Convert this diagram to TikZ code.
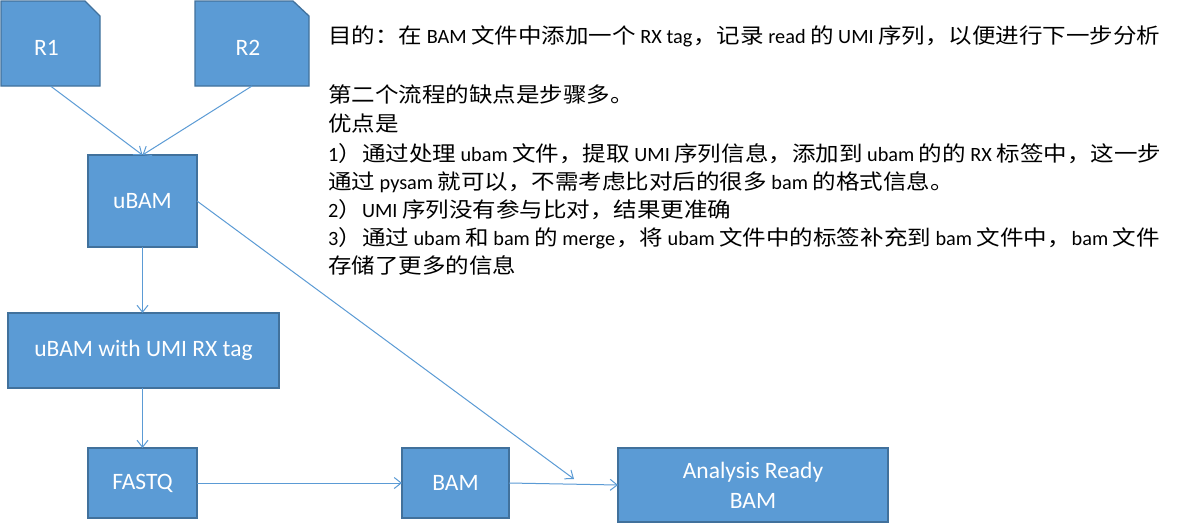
\documentclass[tikz,border=0pt]{standalone}
\usepackage{fontspec}
\setmainfont{Carlito}
\newfontfamily\cjkf[FakeStretch=1.12]{Noto Sans CJK SC}
\usetikzlibrary{arrows.meta}
\definecolor{boxfill}{HTML}{5B9BD5}
\definecolor{boxline}{HTML}{41719C}
\definecolor{conncol}{HTML}{5B9BD5}
\newcommand\cj[1]{{\cjkf\fontsize{21}{24}\selectfont #1}}
\newcommand\lat[1]{\hspace{4.5pt}#1\hspace{4.5pt}}
\newcommand\latl[1]{\hspace{4.5pt}#1\hspace{1pt}}
\newcommand\latr[1]{\hspace{1pt}#1\hspace{4.5pt}}
\tikzset{
  box/.style={draw=boxline, fill=boxfill, line width=1.3pt, text=white,
    font=\fontsize{23.5}{30}\selectfont, inner sep=0pt, outer sep=0pt, align=center},
  snipframe/.style={draw=none, fill=none, inner sep=0pt, outer sep=0pt},
  sniplbl/.style={text=white, font=\fontsize{23.5}{30}\selectfont, inner sep=0pt},
  snipfill/.style={draw=boxline, fill=boxfill, line width=1.3pt},
  conn/.style={draw=conncol, line width=1pt, -{Straight Barb[length=7pt,width=11pt]}},
  txt/.style={anchor=base west, inner sep=0pt, font=\fontsize{20.3}{24}\selectfont}
}
\begin{document}
\begin{tikzpicture}[x=1pt, y=-1pt]
\useasboundingbox[fill=white] (0,0) rectangle (1189,523);

% snip-corner inputs
\node[snipframe, minimum width=99pt, minimum height=85pt] (R1) at (50.5,43.5) {};
\filldraw[snipfill] (R1.north west) -- ([xshift=-15pt]R1.north east) -- ([yshift=-15pt]R1.north east) -- (R1.south east) -- (R1.south west) -- cycle;
\node[sniplbl] (R1t) at ([shift={(-4pt,-4pt)}]R1.center) {R1};

\node[snipframe, minimum width=114pt, minimum height=85pt] (R2) at (252,43.5) {};
\filldraw[snipfill] (R2.north west) -- ([xshift=-16pt]R2.north east) -- ([yshift=-15pt]R2.north east) -- (R2.south east) -- (R2.south west) -- cycle;
\node[sniplbl] (R2t) at ([shift={(-4pt,-4pt)}]R2.center) {R2};

% boxes
\node[box, minimum width=109pt, minimum height=92pt] (ubam) at (142.5,201) {uBAM};
\node[box, minimum width=271pt, minimum height=75pt] (umi) at (143.5,350.5) {uBAM with UMI RX tag};
\node[box, minimum width=109pt, minimum height=70pt] (fastq) at (142.5,483) {FASTQ};
\node[box, minimum width=107pt, minimum height=70pt] (bam) at (455.5,483) {BAM};
\node[box, minimum width=270pt, minimum height=74pt] (arb) at (753,485) {Analysis Ready\\BAM};
\coordinate (diagend) at (574,479);

% connectors
\draw[conn] (R1.south) -- (ubam.north);
\draw[conn] (R2.south) -- (ubam.north);
\draw[conn] (ubam.south) -- (umi.north -| ubam.south);
\draw[conn] (umi.south -| ubam.south) -- (fastq.north);
\draw[conn] (fastq.east) -- (bam.west);
\draw[conn] (bam.east) -- (arb.west);
\draw[conn] (ubam.east) -- (diagend);

% notes
\node[txt] (t1) at (328,43) {\cj{目的：在}\lat{BAM}\cj{文件中添加一个}\latl{RX tag}\cj{，记录}\lat{read}\cj{的}\lat{UMI}\cj{序列，以便进行下一步分析}};
\node[txt] (t2) at (328,102) {\cj{第二个流程的缺点是步骤多。}};
\node[txt] (t3) at (328,131) {\cj{优点是}};
\node[txt] (t4) at (328,161) {1\cj{）通过处理}\lat{ubam}\cj{文件，提取}\lat{UMI}\cj{序列信息，添加到}\lat{ubam}\cj{的的}\lat{RX}\cj{标签中，这一步}};
\node[txt] (t5) at (328,189) {\cj{通过}\lat{pysam}\cj{就可以，不需考虑比对后的很多}\lat{bam}\cj{的格式信息。}};
\node[txt] (t6) at (328,217) {2\cj{）}UMI\hspace{4.5pt}\cj{序列没有参与比对，结果更准确}};
\node[txt] (t7) at (328,245) {3\cj{）通过}\lat{ubam}\cj{和}\lat{bam}\cj{的}\latl{merge}\cj{，将}\lat{ubam}\cj{文件中的标签补充到}\lat{bam}\cj{文件中，}\latr{bam}\cj{文件}};
\node[txt] (t8) at (328,273) {\cj{存储了更多的信息}};
\end{tikzpicture}
\end{document}
